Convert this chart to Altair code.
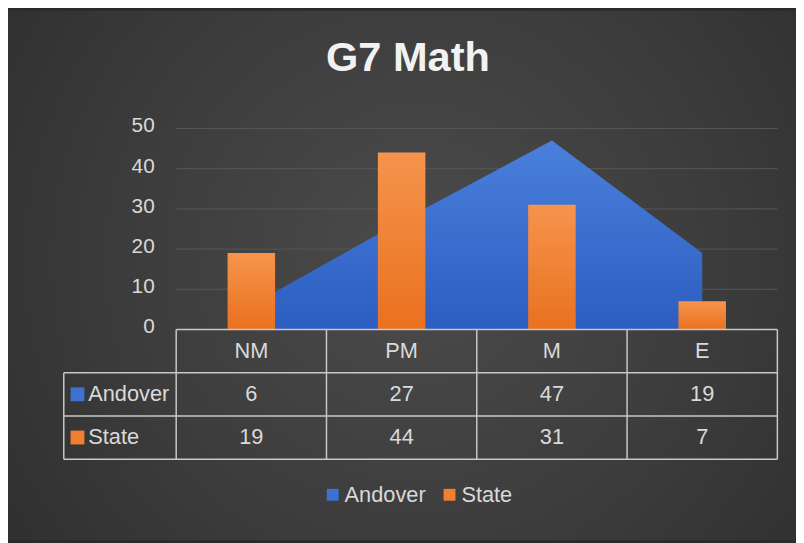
import altair as alt
import pandas as pd

# ---------------- data ----------------
categories = ["NM", "PM", "M", "E"]
andover = [6, 27, 47, 19]
state = [19, 44, 31, 7]
series = ["Andover", "State"]
y_ticks = [0, 10, 20, 30, 40, 50]
title_text = "G7 Math"

# ---------------- layout (page pixels -> data units) ----------------
CH_W, CH_H = 796, 535
PAGE0 = 8
COL_LEFT, COL_RIGHT = 175, 790
ZERO_Y, FIFTY_Y = 330, 127
LABEL_LEFT = 60
TABLE_BOTTOM = 461
LABEL_TEXT_X = 85
LABEL_SQ_X = 74
YLAB_RIGHT = 153

col_w = (COL_RIGHT - COL_LEFT) / len(categories)
ppu = (ZERO_Y - FIFTY_Y) / 50.0


def ux(px):
    return (px - COL_LEFT) / col_w


def uy(py):
    return (ZERO_Y - py) / ppu


x_dom = [ux(PAGE0), ux(PAGE0 + CH_W)]
y_dom = [uy(PAGE0 + CH_H), uy(PAGE0)]
xs = alt.Scale(domain=x_dom, nice=False, zero=False)
ys = alt.Scale(domain=y_dom, nice=False, zero=False)

FONT = "Liberation Sans"
TXT = "#d9d9d9"
LINE = "#c8c8c8"

n_rows = 3
tb = uy(TABLE_BOTTOM)
row_h = -tb / n_rows
row_c = [-(k + 0.5) * row_h for k in range(n_rows)]
lab_left = ux(LABEL_LEFT)
ncat = len(categories)

# main data frame
df = pd.DataFrame({
    "cat": categories,
    "idx": [i + 0.5 for i in range(ncat)],
    "Andover": andover,
    "State": state,
})

# table lines
segs = [dict(x=0, x2=ncat, y=0, y2=0)]
for k in range(1, n_rows + 1):
    segs.append(dict(x=lab_left, x2=ncat, y=-k * row_h, y2=-k * row_h))
segs.append(dict(x=lab_left, x2=lab_left, y=-row_h, y2=tb))
for i in range(ncat + 1):
    segs.append(dict(x=i, x2=i, y=0, y2=tb))
seg_df = pd.DataFrame(segs)

# table texts
txt_rows = []
for i, c in enumerate(categories):
    txt_rows.append(dict(t=c, x=i + 0.5, y=row_c[0]))
    txt_rows.append(dict(t=str(andover[i]), x=i + 0.5, y=row_c[1]))
    txt_rows.append(dict(t=str(state[i]), x=i + 0.5, y=row_c[2]))
txt_df = pd.DataFrame(txt_rows)

lab_df = pd.DataFrame({
    "series": series,
    "tx": [ux(LABEL_TEXT_X)] * 2,
    "sx": [ux(LABEL_SQ_X)] * 2,
    "y": [row_c[1], row_c[2]],
})

grid_df = pd.DataFrame({"v": y_ticks[1:], "x": 0, "x2": ncat})
tick_df = pd.DataFrame({"v": y_ticks, "t": [str(v) for v in y_ticks],
                        "x": ux(YLAB_RIGHT)})

# ---------------- gradients ----------------
bg_grad = alt.RadialGradient(
    gradient="radial",
    stops=[alt.GradientStop(color="#4b4b4b", offset=0),
           alt.GradientStop(color="#3c3c3c", offset=0.5),
           alt.GradientStop(color="#2a2a2a", offset=1)],
    x1=0.52, y1=0.48, r1=0, x2=0.52, y2=0.48, r2=0.75,
)
blue_grad = alt.LinearGradient(
    gradient="linear",
    stops=[alt.GradientStop(color="#4a80dc", offset=0),
           alt.GradientStop(color="#2c5dc0", offset=1)],
    x1=0, x2=0, y1=0, y2=1,
)
orange_grad = alt.LinearGradient(
    gradient="linear",
    stops=[alt.GradientStop(color="#f5944c", offset=0),
           alt.GradientStop(color="#ea711f", offset=1)],
    x1=0, x2=0, y1=0, y2=1,
)

# ---------------- layers ----------------
bg = alt.Chart(pd.DataFrame({"a": [1]})).mark_rect(fill=bg_grad, strokeWidth=0).encode(
    opacity=alt.value(1)
)

grid = alt.Chart(grid_df).mark_rule(color="#575757", strokeWidth=1).encode(
    x=alt.X("x:Q", scale=xs, axis=None),
    x2="x2:Q",
    y=alt.Y("v:Q", scale=ys, axis=None),
)

ylabels = alt.Chart(tick_df).mark_text(
    font=FONT, fontSize=21, color=TXT, align="right", baseline="middle", dy=-2
).encode(
    x=alt.X("x:Q", scale=xs, axis=None),
    y=alt.Y("v:Q", scale=ys, axis=None),
    text="t:N",
)

area = alt.Chart(df).mark_area(fill=blue_grad, line=False).encode(
    x=alt.X("idx:Q", scale=xs, axis=None),
    y=alt.Y("Andover:Q", scale=ys, axis=None),
    y2=alt.datum(0),
)

bars = alt.Chart(df).mark_bar(fill=orange_grad, width=48).encode(
    x=alt.X("idx:Q", scale=xs, axis=None),
    y=alt.Y("State:Q", scale=ys, axis=None),
    y2=alt.datum(0),
)

lines = alt.Chart(seg_df).mark_rule(color=LINE, strokeWidth=1.5).encode(
    x=alt.X("x:Q", scale=xs, axis=None),
    x2="x2:Q",
    y=alt.Y("y:Q", scale=ys, axis=None),
    y2="y2:Q",
)

cell_txt = alt.Chart(txt_df).mark_text(
    font=FONT, fontSize=22, color=TXT, align="center", baseline="middle"
).encode(
    x=alt.X("x:Q", scale=xs, axis=None),
    y=alt.Y("y:Q", scale=ys, axis=None),
    text="t:N",
)

row_lab = alt.Chart(lab_df).mark_text(
    font=FONT, fontSize=22, color=TXT, align="left", baseline="middle"
).encode(
    x=alt.X("tx:Q", scale=xs, axis=None),
    y=alt.Y("y:Q", scale=ys, axis=None),
    text="series:N",
)

row_sq = alt.Chart(lab_df).mark_square(size=196, opacity=1, filled=True).encode(
    x=alt.X("sx:Q", scale=xs, axis=None),
    y=alt.Y("y:Q", scale=ys, axis=None),
    color=alt.Color(
        "series:N",
        scale=alt.Scale(domain=series, range=["#3f72d0", "#f07f30"]),
        legend=alt.Legend(
            title=None, orient="none", legendX=317, legendY=478,
            direction="horizontal", symbolType="square", symbolSize=144,
            symbolStrokeWidth=0, labelFont=FONT, labelFontSize=22,
            labelColor=TXT, columnPadding=13, labelOffset=1, padding=0,
        ),
    ),
)

chart = alt.layer(bg, grid, ylabels, area, bars, lines, cell_txt, row_lab, row_sq).properties(
    width=CH_W,
    height=CH_H,
    autosize=alt.AutoSizeParams(type="none"),
    padding=0,
    background="#2a2a2a",
    title=alt.Title(title_text, font=FONT, fontSize=42, fontWeight="bold",
                    color="#f2f2f2", anchor="middle", baseline="alphabetic",
                    offset=0, dy=103, dx=6),
).configure_view(stroke=None)

chart.save("out.html", embed_options={"renderer": "svg", "actions": False})
